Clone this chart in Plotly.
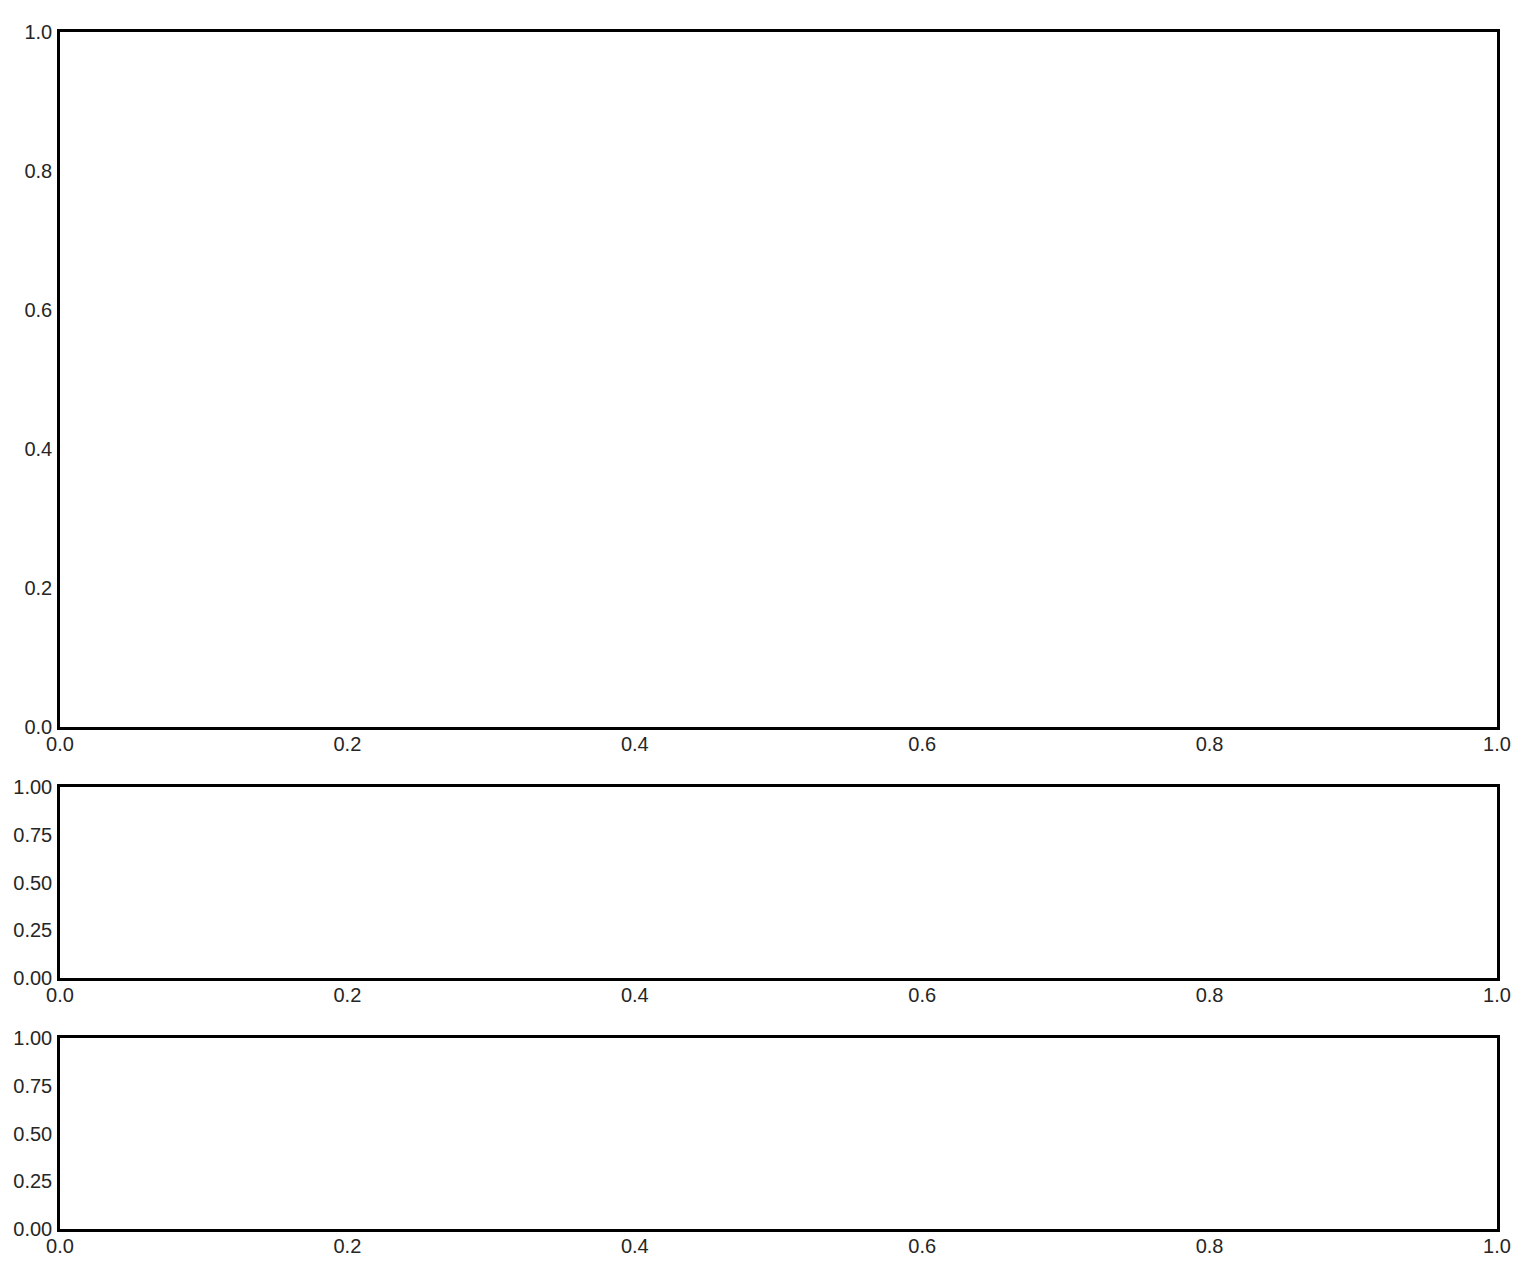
import plotly.graph_objects as go

x_ticks = [0.0, 0.2, 0.4, 0.6, 0.8, 1.0]
x_labels = ["0.0", "0.2", "0.4", "0.6", "0.8", "1.0"]
y_top_ticks = [0.0, 0.2, 0.4, 0.6, 0.8, 1.0]
y_top_labels = ["0.0", "0.2", "0.4", "0.6", "0.8", "1.0"]
y_small_ticks = [0.0, 0.25, 0.5, 0.75, 1.0]
y_small_labels = ["0.00", "0.25", "0.50", "0.75", "1.00"]

W, H = 1536, 1280
x0, x1 = 52, 1489
panels = [(24, 719), (779, 970), (1030, 1221)]

fig = go.Figure()
font = dict(family="Liberation Sans, Arial, sans-serif", size=20, color="#262626")

for i, (top, bot) in enumerate(panels):
    idx = "" if i == 0 else str(i + 1)
    yt = y_top_ticks if i == 0 else y_small_ticks
    yl = y_top_labels if i == 0 else y_small_labels
    ax_common = dict(
        range=[0, 1], showgrid=False, zeroline=False, showline=True,
        linecolor="black", linewidth=2.5, mirror=True, ticks="",
        tickfont=font, fixedrange=True, automargin=False,
    )
    fig.layout["xaxis" + idx] = dict(
        ax_common, domain=[x0 / W, x1 / W], anchor="y" + idx,
        tickvals=x_ticks, ticktext=x_labels, ticklabelstandoff=-3,
    )
    fig.layout["yaxis" + idx] = dict(
        ax_common, domain=[1 - bot / H, 1 - top / H], anchor="x" + idx,
        tickvals=yt, ticktext=yl, ticklabelstandoff=1,
    )
    fig.add_trace(go.Scatter(x=[], y=[], xaxis="x" + idx, yaxis="y" + idx, showlegend=False))

fig.update_layout(
    width=W, height=H, margin=dict(l=0, r=0, t=0, b=0),
    paper_bgcolor="white", plot_bgcolor="white", showlegend=False,
)
fig.write_html("out.html")
